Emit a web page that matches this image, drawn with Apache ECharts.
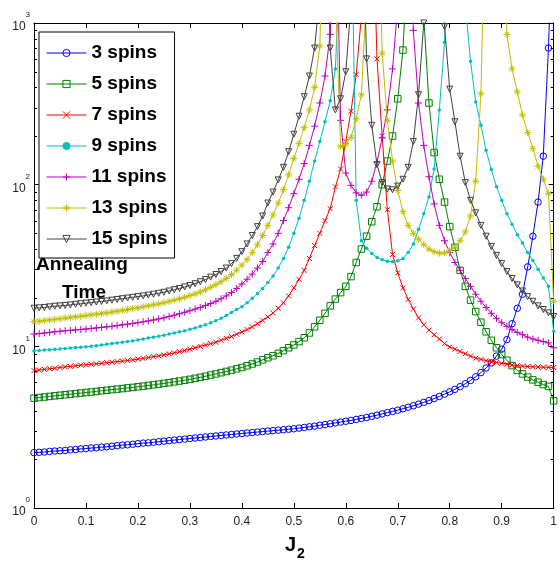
<!DOCTYPE html>
<html>
<head>
<meta charset="utf-8">
<script src="https://cdn.jsdelivr.net/npm/echarts@6/dist/echarts.min.js"></script>
<style>
html,body{margin:0;padding:0;background:#fff;}
#chart{width:560px;height:562px;}
</style>
</head>
<body>
<div id="chart"></div>
<script>
// ---------------- data ----------------
const j2 = [0,0.01,0.02,0.03,0.04,0.05,0.06,0.07,0.08,0.09,
0.10,0.11,0.12,0.13,0.14,0.15,0.16,0.17,0.18,0.19,
0.20,0.21,0.22,0.23,0.24,0.25,0.26,0.27,0.28,0.29,
0.30,0.31,0.32,0.33,0.34,0.35,0.36,0.37,0.38,0.39,
0.40,0.41,0.42,0.43,0.44,0.45,0.46,0.47,0.48,0.49,
0.50,0.51,0.52,0.53,0.54,0.55,0.56,0.57,0.58,0.59,
0.60,0.61,0.62,0.63,0.64,0.65,0.66,0.67,0.68,0.69,
0.70,0.71,0.72,0.73,0.74,0.75,0.76,0.77,0.78,0.79,
0.80,0.81,0.82,0.83,0.84,0.85,0.86,0.87,0.88,0.89,
0.90,0.91,0.92,0.93,0.94,0.95,0.96,0.97,0.98,0.99,1.00];

const seriesNames = ['3 spins','5 spins','7 spins','9 spins','11 spins','13 spins','15 spins'];

const spins3 = [2.20,2.21,2.22,2.24,2.25,2.26,2.27,2.29,2.30,2.32,
2.33,2.35,2.36,2.38,2.39,2.41,2.43,2.45,2.46,2.48,
2.50,2.52,2.53,2.55,2.57,2.59,2.61,2.63,2.65,2.67,
2.69,2.71,2.73,2.75,2.77,2.79,2.81,2.83,2.85,2.87,
2.89,2.91,2.93,2.95,2.97,2.99,3.01,3.03,3.05,3.07,
3.09,3.12,3.15,3.18,3.21,3.25,3.28,3.32,3.36,3.40,
3.44,3.48,3.53,3.58,3.63,3.69,3.75,3.82,3.89,3.96,
4.03,4.11,4.20,4.29,4.39,4.50,4.62,4.75,4.90,5.06,
5.23,5.42,5.63,5.87,6.15,6.48,6.88,7.35,7.90,8.70,
9.60,11.0,13.8,17.2,21.0,31.0,48.0,78.0,150,700,6000];

const spins5 = [4.78,4.82,4.86,4.90,4.94,4.98,5.02,5.06,5.10,5.14,
5.18,5.22,5.26,5.31,5.35,5.40,5.44,5.48,5.53,5.57,
5.62,5.67,5.73,5.78,5.84,5.90,5.96,6.03,6.10,6.17,
6.25,6.34,6.43,6.53,6.64,6.75,6.87,6.99,7.12,7.26,
7.40,7.58,7.78,8.00,8.25,8.50,8.75,9.05,9.40,9.80,
10.2,10.7,11.3,12.1,13.2,14.5,16.0,17.8,19.6,21.5,
23.5,27.0,33.0,40.0,48.0,59.0,73.0,100,140,200,
340,680,3000,9000,6000,1100,320,158,108,78,
55,41,29.5,23.5,19.3,16.4,14.1,12.3,10.9,9.8,
8.9,8.2,7.6,7.1,6.75,6.45,6.2,6.0,5.8,5.65,4.6];

const spins7 = [7.08,7.14,7.20,7.27,7.33,7.40,7.46,7.52,7.58,7.64,
7.70,7.75,7.80,7.86,7.92,7.98,8.04,8.10,8.17,8.25,
8.33,8.42,8.52,8.62,8.73,8.85,8.98,9.12,9.27,9.43,
9.60,9.80,10.0,10.2,10.4,10.6,10.9,11.2,11.5,11.9,
12.3,12.7,13.2,13.8,14.5,15.2,16.1,17.2,18.6,20.5,
23.0,26.0,29.5,35.0,42.0,50.0,60.0,71.0,97.0,125,
185,285,480,1100,8000,9000,600,200,70,37,
28.5,23,19.5,17,15,13.6,12.6,11.8,11.1,10.4,
9.9,9.6,9.3,9.0,8.7,8.45,8.3,8.15,8.05,7.95,
7.85,7.75,7.67,7.6,7.55,7.5,7.48,7.45,7.43,7.42,7.4];

const spins9 = [9.37,9.42,9.48,9.53,9.58,9.64,9.70,9.76,9.82,9.88,
9.95,10.0,10.1,10.2,10.3,10.4,10.5,10.6,10.7,10.8,
10.95,11.1,11.25,11.4,11.55,11.7,11.9,12.1,12.3,12.5,
12.75,13.0,13.3,13.6,14.0,14.4,14.9,15.5,16.2,16.9,
17.6,18.6,19.8,21.2,22.8,24.8,27.2,30.5,35.0,41.0,
50.0,62.0,80.0,105,140,185,245,330,520,3000,
9000,7000,80,45,40.4,37.5,35.5,34.3,33.6,33.4,
33.8,35.0,38.0,43.0,53.0,66.0,84.0,125,290,760,
6000,9000,7000,1300,580,325,233,163,124,97,
80,66,57,49,43.5,38,34,30,26.5,23.5,12.4];

const spins11 = [11.9,12.0,12.1,12.2,12.3,12.4,12.48,12.56,12.64,12.72,
12.8,12.9,13.0,13.1,13.2,13.3,13.44,13.58,13.72,13.86,
14.0,14.18,14.36,14.56,14.78,15.0,15.3,15.6,15.9,16.25,
16.6,17.0,17.4,17.9,18.4,19.0,19.7,20.5,21.5,22.8,
24.3,26.0,28.0,30.5,33.5,38.0,43.0,50.0,60.0,72.0,
88.0,108,135,175,230,320,470,850,9000,250,
118,99,89,86,90,105,138,195,290,520,
1300,8000,9000,900,320,175,112,76,56,45,
38,33,29.5,26.3,23.5,21.0,19.0,17.4,16.0,14.9,
14.0,13.3,12.7,12.2,11.8,11.4,11.1,10.9,10.7,10.5,9.8];

const spins13 = [14.2,14.3,14.4,14.55,14.7,14.8,14.95,15.1,15.2,15.35,
15.5,15.65,15.8,15.95,16.1,16.3,16.5,16.7,16.9,17.1,
17.3,17.55,17.8,18.05,18.3,18.6,18.95,19.3,19.7,20.1,
20.6,21.1,21.7,22.4,23.2,24.1,25.1,26.3,27.8,29.6,
31.8,34.5,38.0,42.5,48.5,56.0,65.0,77.0,93.0,115,
145,180,225,290,400,720,9000,9000,1500,172,
178,196,255,360,1500,9000,9000,650,250,140,
92,68,56,50,46,42.5,40,38.5,37.7,37.8,
39,41,45,51,64,105,365,9000,9000,9000,
9000,850,520,375,270,210,168,130,108,88,19];

const spins15 = [17.2,17.3,17.4,17.55,17.7,17.8,17.9,18.05,18.2,18.35,
18.5,18.65,18.8,18.95,19.1,19.3,19.5,19.7,19.9,20.1,
20.3,20.5,20.75,21.0,21.3,21.6,22.0,22.4,22.8,23.3,
23.8,24.4,25.1,25.9,26.8,27.8,29.0,30.5,32.5,35.0,
38.5,43.0,48.5,55.0,64.0,77.0,90.0,107,128,160,
205,265,350,470,700,1500,9000,700,290,340,
500,1300,9000,9000,600,233,133,103,94,93,
98,108,128,185,360,1000,9000,9000,9000,950,
390,245,150,103,80,67,56,48,41.5,36.5,
32.5,29,26.3,24,22,20.3,19,17.8,16.9,16.1,15.3];

// minor tick positions of the logarithmic y axis
const yMinorTicks = [2,3,4,5,6,7,8,9,20,30,40,50,60,70,80,90,200,300,400,500,600,700,800,900];

// ---------------- chart ----------------
const FONT = '"Liberation Sans", Arial, Helvetica, sans-serif';
const allValues = [spins3, spins5, spins7, spins9, spins11, spins13, spins15];
const styles = [
  {color:'#0000ff', symbol:'circle', size:6.5, filled:false},
  {color:'#008000', symbol:'rect', size:6.5, filled:false},
  {color:'#ff0000', symbol:'path://M0,0L10,10M10,0L0,10', size:5, filled:false},
  {color:'#00bfbf', symbol:'circle', size:3.5, filled:true},
  {color:'#bf00bf', symbol:'path://M5,0L5,10M0,5L10,5', size:7, filled:false},
  {color:'#bfbf00', symbol:'path://M5,0L5,10M0,5L10,5M1.5,1.5L8.5,8.5M8.5,1.5L1.5,8.5', size:7, filled:false},
  {color:'#404040', symbol:'path://M0,0L10,0L5,8.66Z', size:6, filled:false}
];

const series = seriesNames.map(function(name, k){
  const st = styles[k];
  return {
    name: name,
    type: 'line',
    xAxisIndex: 0, yAxisIndex: 0,
    data: j2.map(function(x, i){ return [x, allValues[k][i]]; }),
    symbol: st.symbol,
    symbolSize: st.size,
    showSymbol: true,
    showAllSymbol: true,
    clip: true,
    silent: true,
    animation: false,
    lineStyle: {color: st.color, width: 1},
    itemStyle: st.filled ? {color: st.color, borderColor: st.color, borderWidth: 0}
                         : {color: 'rgba(0,0,0,0)', borderColor: st.color, borderWidth: 1},
    emphasis: {disabled: true},
    z: 2 + k
  };
});

series.push({
  type: 'custom',
  name: 'minorTicks',
  xAxisIndex: 0, yAxisIndex: 0,
  silent: true,
  animation: false,
  clip: false,
  z: 20,
  data: yMinorTicks.map(function(v){ return [0, v]; }),
  renderItem: function(params, api){
    const y = Math.round(api.coord([0, api.value(1)])[1]) + 0.5;
    const cs = params.coordSys;
    const xl = cs.x, xr = cs.x + cs.width;
    return {type:'group', children:[
      {type:'line', shape:{x1:xl, y1:y, x2:xl+3, y2:y}, style:{stroke:'#000', lineWidth:1}},
      {type:'line', shape:{x1:xr-3, y1:y, x2:xr, y2:y}, style:{stroke:'#000', lineWidth:1}}
    ]};
  }
});

const chart = echarts.init(document.getElementById('chart'), null, {renderer:'canvas'});
chart.setOption({
  animation: false,
  backgroundColor: '#ffffff',
  grid: {left: 34, right: 1, top: 23, bottom: 54, containLabel: false},
  legend: {
    data: seriesNames,
    orient: 'vertical',
    left: 39, top: 32,
    padding: [11, 7, 9, 7],
    itemWidth: 40, itemHeight: 9, itemGap: 11,
    backgroundColor: '#ffffff',
    borderColor: '#000', borderWidth: 1, borderRadius: 0,
    selectedMode: false,
    lineStyle: {width: 1},
    itemStyle: {borderWidth: 1},
    textStyle: {fontFamily: FONT, fontWeight: 'bold', fontSize: 19, color: '#000', lineHeight: 20}
  },
  xAxis: [
    {type:'value', position:'bottom', min:0, max:1, interval:0.1,
     axisLine:{show:true, onZero:false, lineStyle:{color:'#000', width:1}},
     axisTick:{show:true, inside:true, length:5, lineStyle:{color:'#000'}},
     axisLabel:{show:true, margin:8, fontFamily:FONT, fontSize:12, color:'#222'},
     splitLine:{show:false}},
    {type:'value', position:'top', min:0, max:1, interval:0.1,
     axisLine:{show:true, onZero:false, lineStyle:{color:'#000', width:1}},
     axisTick:{show:true, inside:true, length:5, lineStyle:{color:'#000'}},
     axisLabel:{show:false}, splitLine:{show:false}}
  ],
  yAxis: [
    {type:'log', logBase:10, min:1, max:1000, position:'left',
     axisLine:{show:true, onZero:false, lineStyle:{color:'#000', width:1}},
     axisTick:{show:true, inside:true, length:5, lineStyle:{color:'#000'}},
     splitLine:{show:false},
     axisLabel:{show:true, margin:4, padding:[0,0,12,0],
       formatter: function(v){ return '{b|10}{e|' + Math.round(Math.log10(v)) + '}'; },
       rich:{
         b:{fontFamily:FONT, fontSize:12, color:'#222', lineHeight:12, padding:[10,0,0,0], verticalAlign:'top'},
         e:{fontFamily:FONT, fontSize:8, color:'#222', lineHeight:8, verticalAlign:'top'}
       }}},
    {type:'log', logBase:10, min:1, max:1000, position:'right',
     axisLine:{show:true, onZero:false, lineStyle:{color:'#000', width:1}},
     axisTick:{show:true, inside:true, length:5, lineStyle:{color:'#000'}},
     axisLabel:{show:false}, splitLine:{show:false}}
  ],
  graphic: [
    {type:'text', x:36, y:265, silent:true,
     style:{text:'Annealing', font:'bold 19px ' + FONT, fill:'#000', align:'left', verticalAlign:'middle', textAlign:'left', textVerticalAlign:'middle'}},
    {type:'text', x:62, y:293, silent:true,
     style:{text:'Time', font:'bold 19px ' + FONT, fill:'#000', align:'left', verticalAlign:'middle', textAlign:'left', textVerticalAlign:'middle'}},
    {type:'text', x:285, y:545, silent:true,
     style:{text:'J', font:'bold 20px ' + FONT, fill:'#000', align:'left', verticalAlign:'middle', textAlign:'left', textVerticalAlign:'middle'}},
    {type:'text', x:297, y:554, silent:true,
     style:{text:'2', font:'bold 14px ' + FONT, fill:'#000', align:'left', verticalAlign:'middle', textAlign:'left', textVerticalAlign:'middle'}}
  ],
  series: series
});
</script>
</body>
</html>
